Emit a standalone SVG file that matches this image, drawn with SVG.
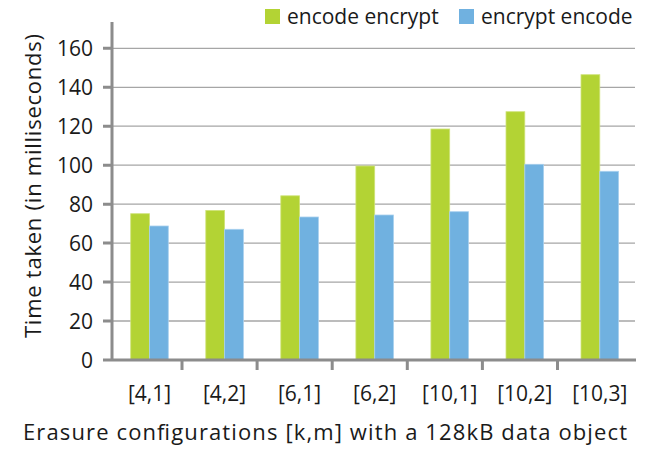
<svg xmlns="http://www.w3.org/2000/svg" width="650" height="450" viewBox="0 0 650 450">
  <style>
    text { font-family: "Open Sans", "Liberation Sans", sans-serif; fill: #1a1a1a; }
    .lbl { font-size: 21px; }
    .ttl { font-size: 22px; }
    .ylbl { text-anchor: end; }
    .xlbl { text-anchor: middle; }
    .grid { stroke: #a6a6a6; stroke-width: 1.3; fill: none; }
    .axis { stroke: #8c8c8c; stroke-width: 3; fill: none; }
    .enc { fill: #b3d334; stroke: #cfe37a; stroke-width: 0.8; }
    .cry { fill: #70b1e0; stroke: #a9d0ee; stroke-width: 0.8; }
  </style>
  <rect width="650" height="450" fill="#ffffff"/>

  <!-- legend -->
  <g id="legend">
    <rect x="265" y="9" width="15" height="15" fill="#b3d334"/>
    <text class="lbl" x="287" y="24">encode encrypt</text>
    <rect x="459" y="9" width="15" height="15" fill="#70b1e0"/>
    <text class="lbl" x="481" y="24">encrypt encode</text>
  </g>

  <!-- horizontal gridlines every 20 ms -->
  <g id="gridlines">
    <line class="grid" x1="112" y1="321" x2="635" y2="321"/>
    <line class="grid" x1="112" y1="282.1" x2="635" y2="282.1"/>
    <line class="grid" x1="112" y1="243.1" x2="635" y2="243.1"/>
    <line class="grid" x1="112" y1="204.2" x2="635" y2="204.2"/>
    <line class="grid" x1="112" y1="165.2" x2="635" y2="165.2"/>
    <line class="grid" x1="112" y1="126.2" x2="635" y2="126.2"/>
    <line class="grid" x1="112" y1="87.3" x2="635" y2="87.3"/>
    <line class="grid" x1="112" y1="48.3" x2="635" y2="48.3"/>
  </g>

  <!-- bars: green = encode encrypt, blue = encrypt encode -->
  <g id="bars">
    <g id="k4m1">
      <rect class="enc" x="130.7" y="213.7" width="18.8" height="146.3"/>
      <rect class="cry" x="149.5" y="226" width="18.8" height="134"/>
    </g>
    <g id="k4m2">
      <rect class="enc" x="205.8" y="210.4" width="18.8" height="149.6"/>
      <rect class="cry" x="224.6" y="229.3" width="18.8" height="130.7"/>
    </g>
    <g id="k6m1">
      <rect class="enc" x="280.8" y="195.8" width="18.8" height="164.2"/>
      <rect class="cry" x="299.6" y="217" width="18.8" height="143"/>
    </g>
    <g id="k6m2">
      <rect class="enc" x="355.9" y="166" width="18.8" height="194"/>
      <rect class="cry" x="374.7" y="215" width="18.8" height="145"/>
    </g>
    <g id="k10m1">
      <rect class="enc" x="430.9" y="129" width="18.8" height="231"/>
      <rect class="cry" x="449.7" y="211.7" width="18.8" height="148.3"/>
    </g>
    <g id="k10m2">
      <rect class="enc" x="506" y="111.7" width="18.8" height="248.3"/>
      <rect class="cry" x="524.8" y="164.3" width="18.8" height="195.7"/>
    </g>
    <g id="k10m3">
      <rect class="enc" x="581" y="74.7" width="18.8" height="285.3"/>
      <rect class="cry" x="599.8" y="171.3" width="18.8" height="188.7"/>
    </g>
  </g>

  <!-- axes with tick marks -->
  <g id="axes">
    <line class="axis" x1="112" y1="22" x2="112" y2="360"/>
    <line class="axis" x1="103" y1="360" x2="636" y2="360"/>
    <path class="axis" d="M103 321H112M103 282.1H112M103 243.1H112M103 204.2H112M103 165.2H112M103 126.2H112M103 87.3H112M103 48.3H112"/>
    <path class="axis" d="M182 360V370M257.1 360V370M332.2 360V370M407.3 360V370M482.4 360V370M557.5 360V370"/>
  </g>

  <!-- value axis labels -->
  <g id="y-labels">
    <text class="lbl ylbl" x="93" y="367.5">0</text>
    <text class="lbl ylbl" x="93" y="328.5">20</text>
    <text class="lbl ylbl" x="93" y="289.6">40</text>
    <text class="lbl ylbl" x="93" y="250.6">60</text>
    <text class="lbl ylbl" x="93" y="211.7">80</text>
    <text class="lbl ylbl" x="93" y="172.7">100</text>
    <text class="lbl ylbl" x="93" y="133.7">120</text>
    <text class="lbl ylbl" x="93" y="94.8">140</text>
    <text class="lbl ylbl" x="93" y="55.8">160</text>
  </g>

  <!-- category labels -->
  <g id="x-labels">
    <text class="lbl xlbl" x="149.5" y="401">[4,1]</text>
    <text class="lbl xlbl" x="224.6" y="401">[4,2]</text>
    <text class="lbl xlbl" x="299.6" y="401">[6,1]</text>
    <text class="lbl xlbl" x="374.7" y="401">[6,2]</text>
    <text class="lbl xlbl" x="449.7" y="401">[10,1]</text>
    <text class="lbl xlbl" x="524.8" y="401">[10,2]</text>
    <text class="lbl xlbl" x="599.8" y="401">[10,3]</text>
  </g>

  <!-- axis titles -->
  <g id="titles">
    <text class="ttl xlbl" x="325" y="440" textLength="604" lengthAdjust="spacing">Erasure configurations [k,m] with a 128kB data object</text>
    <text class="ttl xlbl" transform="translate(41 186) rotate(-90)" textLength="304" lengthAdjust="spacing">Time taken (in milliseconds)</text>
  </g>
</svg>
